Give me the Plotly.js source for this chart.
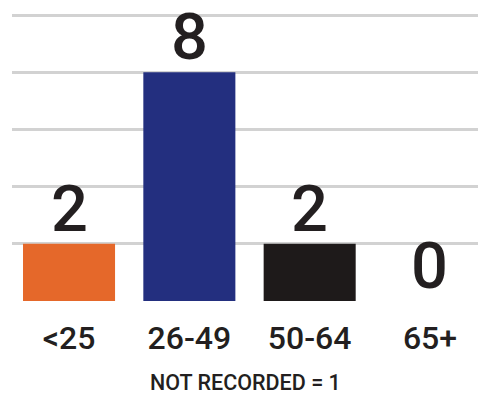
<!DOCTYPE html>
<html>
<head>
<meta charset="utf-8">
<script src="https://cdn.plot.ly/plotly-3.0.1.min.js"></script>
<style>html,body{margin:0;padding:0;background:#fff;}#chart{width:478px;height:394px;}</style>
</head>
<body>
<div id="chart"></div>
<script>
const categories = ["<25", "26-49", "50-64", "65+"];
const counts = [2, 8, 2, 0];
const barColors = ["#e5682a", "#232f7f", "#1e1a1a", "#ffffff"];
const yTicks = [0, 2, 4, 6, 8, 10];
const footnote = "NOT RECORDED = 1";

const FONT = "Roboto, 'Liberation Sans', Arial, sans-serif";
const INK = "#231f20";

const trace = {
  type: "bar",
  x: categories,
  y: counts,
  width: 0.765,
  marker: { color: barColors, line: { width: 0 } },
  hoverinfo: "none"
};

const annotations = categories.map((c, i) => ({
  x: c, y: counts[i], xref: "x", yref: "y",
  text: String(counts[i]),
  showarrow: false, xanchor: "center", yanchor: "bottom",
  yshift: -5,
  font: { family: FONT, size: 65, color: INK, weight: 500 }
}));
annotations.push({
  x: 0.5, y: -0.335, xref: "paper", yref: "paper",
  text: footnote, showarrow: false, xanchor: "center", yanchor: "bottom",
  font: { family: FONT, size: 21.5, color: INK, weight: 500 }
});

const layout = {
  width: 478, height: 394,
  margin: { l: 12, r: 0, t: 13, b: 93 },
  paper_bgcolor: "#ffffff", plot_bgcolor: "#ffffff",
  showlegend: false,
  xaxis: {
    type: "category",
    range: [-0.474, 3.399],
    showgrid: false, zeroline: false, showline: false,
    ticks: "outside", ticklen: 9, tickcolor: "rgba(0,0,0,0)",
    tickfont: { family: FONT, size: 32, color: INK, weight: 500 },
    fixedrange: true
  },
  yaxis: {
    range: [0, 10.07],
    tickvals: yTicks,
    showticklabels: false,
    showgrid: true, gridcolor: "#d2d2d2", gridwidth: 3,
    zeroline: false, showline: false,
    fixedrange: true
  },
  annotations: annotations
};

Plotly.newPlot("chart", [trace], layout, { staticPlot: true, displayModeBar: false });
</script>
</body>
</html>
